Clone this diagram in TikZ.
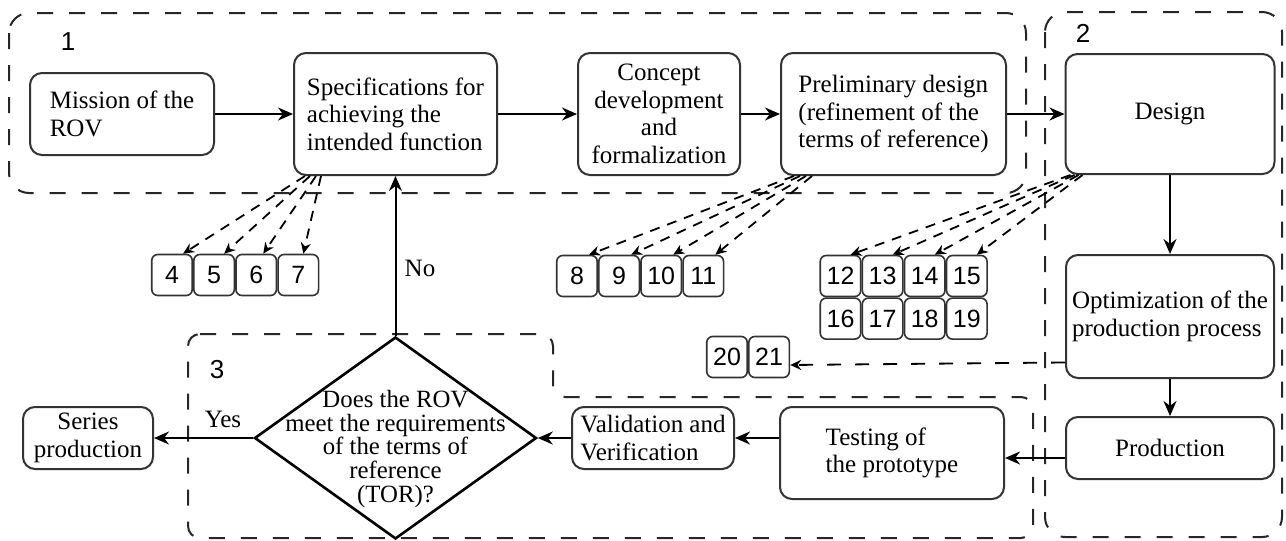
\documentclass[tikz,border=0pt]{standalone}
\usepackage{fontspec}
\setmainfont{Liberation Serif}
\setsansfont{Liberation Sans}
\usepackage{tikz}
\usetikzlibrary{
	shapes.geometric,
	positioning,
	arrows.meta
}

\begin{document}
\begin{tikzpicture}[
		x=0.5pt, y=-0.5pt,
		stage/.style={draw=black!80, line width=1pt, rounded corners=6pt, inner sep=1pt, font=\fontsize{12.5}{13.75}\selectfont},
		tag/.style={draw=black!80, line width=0.8pt, rounded corners=3pt, minimum width=20.25pt, minimum height=20.5pt, inner sep=0pt, font=\sffamily\fontsize{12.5}{14}\selectfont},
		decision/.style={draw, diamond, line width=1.3pt, minimum width=141pt, minimum height=101pt, inner sep=0pt},
		region/.style={draw=black!85, line width=1pt, dash pattern=on 8pt off 8pt, rounded corners=10pt},
		regionno/.style={font=\sffamily\fontsize{13}{14}\selectfont},
		flow/.style={-{Stealth[length=7.5pt,width=6.5pt]}, line width=1pt},
		ref/.style={-{Stealth[length=5.5pt,width=5pt]}, line width=0.9pt, dash pattern=on 5pt off 4pt}
	]
	\useasboundingbox (0,0) rectangle (1286,541);

	\draw[region] (9,13) rectangle (1026,193);
	\draw[region] (1045,12) rectangle (1282,537);
	\draw[region, rounded corners=6pt] (188,334) -- (553,334) -- (553,397) -- (1033,397) -- (1033,538) -- (188,538) -- cycle;

	\draw
		node [regionno] (r1) at (68,42)   {1}
		node [regionno] (r2) at (1083,33) {2}
		node [regionno] (r3) at (217,370) {3}

		node [stage, minimum width=92pt,    minimum height=41pt, align=left]   (mission)    at (122,114)  {Mission of the\\ROV}
		node [stage, minimum width=101.5pt, minimum height=61pt, align=left]   (specs)      at (395.5,114) {Specifications for\\achieving the\\intended function}
		node [stage, minimum width=81pt,    minimum height=61pt, align=center] (concept)    at (659,114)  {Concept\\development\\and\\formalization}
		node [stage, minimum width=112.5pt, minimum height=61pt, align=left]   (prelim)     at (893.5,114) {Preliminary design\\(refinement of the\\terms of reference)}
		node [stage, minimum width=104.5pt, minimum height=60pt]               (design)     at (1170,114) {Design}
		node [stage, minimum width=104pt,   minimum height=61.5pt, align=left] (optim)      at (1170,316.5) {Optimization of the\\production process}
		node [stage, minimum width=104pt,   minimum height=31pt]               (production) at (1170,448) {Production}
		node [stage, minimum width=112pt,   minimum height=46pt, align=left]   (testing)    at (892,453)  {Testing of\\the prototype}
		node [stage, minimum width=81pt,    minimum height=31pt, align=left]   (validation) at (653,438)  {Validation and\\Verification}
		node [stage, minimum width=65pt,    minimum height=31pt, align=center] (series)     at (88,438)   {Series\\production}

		node [decision] (check) at (395.5,438) {}
		node [align=center, font=\fontsize{12.4}{11.8}\selectfont] (question) at (395.5,449)
			{Does the ROV\\meet the requirements\\of the terms of\\reference\\(TOR)?}

		node [font=\fontsize{12.5}{14}\selectfont] (yes) at (223,419) {Yes}
		node [font=\fontsize{12.5}{14}\selectfont] (no)  at (420,268) {No}

		node [tag] (n4) at (172,275) {4}
		node [tag, right=0pt of n4] (n5) {5}
		node [tag, right=0pt of n5] (n6) {6}
		node [tag, right=0pt of n6] (n7) {7}

		node [tag] (n8) at (577,276) {8}
		node [tag, right=0pt of n8]  (n9)  {9}
		node [tag, right=0pt of n9]  (n10) {10}
		node [tag, right=0pt of n10] (n11) {11}

		node [tag] (n12) at (840.5,276) {12}
		node [tag, right=0pt of n12] (n13) {13}
		node [tag, right=0pt of n13] (n14) {14}
		node [tag, right=0pt of n14] (n15) {15}
		node [tag, below=0pt of n12] (n16) {16}
		node [tag, right=0pt of n16] (n17) {17}
		node [tag, right=0pt of n17] (n18) {18}
		node [tag, right=0pt of n18] (n19) {19}

		node [tag] (n20) at (727,357) {20}
		node [tag, right=0pt of n20] (n21) {21}

		coordinate (prodout) at ([yshift=-5pt]production.west)
		coordinate (optout)  at ([yshift=-23pt]optim.west)
	;

	\draw
		(mission)  edge[flow] (specs)
		(specs)    edge[flow] (concept)
		(concept)  edge[flow] (prelim)
		(prelim)   edge[flow] (design)
		(design)   edge[flow] (optim)
		(optim)    edge[flow] (production)
		(prodout)  edge[flow] (prodout -| testing.east)
		(testing.west |- validation) edge[flow] (validation)
		(validation) edge[flow] (check)
		(check)    edge[flow] (series)
		(check.north) edge[flow] (check.north |- specs.south)

		([xshift=6pt]specs.south west)    edge[ref] ([xshift=-5pt]n4.north east)
		([xshift=8.5pt]specs.south west)  edge[ref] ([xshift=-5.5pt]n5.north east)
		([xshift=11.5pt]specs.south west) edge[ref] ([xshift=-7pt]n6.north east)
		([xshift=14pt]specs.south west)   edge[ref] ([xshift=-8pt]n7.north east)

		([xshift=7pt]prelim.south west)  edge[ref] ([xshift=-4.5pt]n8.north east)
		([xshift=10pt]prelim.south west) edge[ref] ([xshift=-4.5pt]n9.north east)
		([xshift=13pt]prelim.south west) edge[ref] ([xshift=-4.5pt]n10.north east)
		([xshift=16pt]prelim.south west) edge[ref] ([xshift=-4.5pt]n11.north east)

		([xshift=3pt]design.south west)  edge[ref] ([xshift=-5.5pt]n12.north east)
		([xshift=5pt]design.south west)  edge[ref] ([xshift=-5.5pt]n13.north east)
		([xshift=7pt]design.south west)  edge[ref] ([xshift=-5.5pt]n14.north east)
		([xshift=9pt]design.south west)  edge[ref] ([xshift=-5.5pt]n15.north east)

		(optout) edge[ref, dash pattern=on 7pt off 7pt] ([yshift=-4pt]n21.east)
	;
\end{tikzpicture}
\end{document}
